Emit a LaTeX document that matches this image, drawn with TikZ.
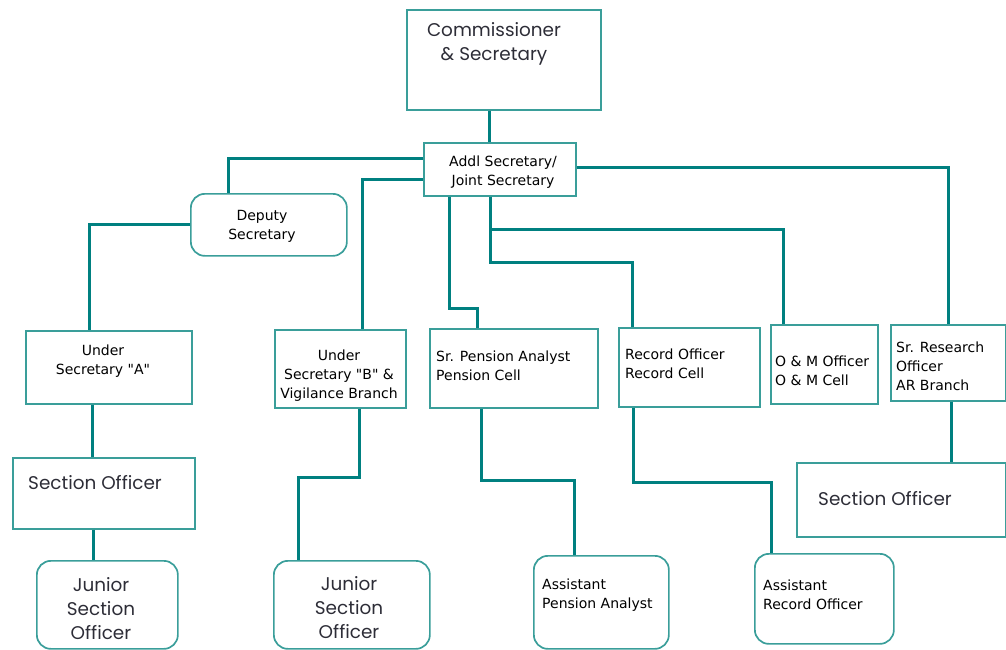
\documentclass[tikz,border=0pt]{standalone}
\usepackage{fontspec}
\setmainfont{DejaVu Sans}[Ligatures=TeXOff]
\newfontfamily\cgfont{Poppins}
\definecolor{lineteal}{RGB}{0,128,128}
\definecolor{boxteal}{RGB}{58,158,154}
\definecolor{txtgray}{RGB}{45,45,55}
\tikzset{
  obox/.style={draw=boxteal, line width=1.7pt, inner sep=0pt, anchor=north west},
  rbox/.style={obox, rounded corners=14pt},
  conn/.style={draw=lineteal, line width=3pt},
  small/.style={font=\fontsize{14}{19}\selectfont, inner sep=0pt, text=black},
  big/.style={font=\cgfont\fontsize{18.4}{24}\selectfont, inner sep=0pt, text=txtgray}
}
\begin{document}
\begin{tikzpicture}[x=1pt,y=-1pt]
\useasboundingbox (0,0) rectangle (1006,649);
% boxes
\node[obox, minimum width=194pt, minimum height=100pt] (comm) at (406,9) {};
\node[obox, minimum width=152pt, minimum height=53pt]  (addl) at (423,142) {};
\node[rbox, minimum width=156pt, minimum height=62pt]  (dep)  at (190,193) {};
\node[obox, minimum width=166pt, minimum height=73pt]  (usa)  at (25,330) {};
\node[obox, minimum width=131pt, minimum height=78pt]  (usb)  at (274,329) {};
\node[obox, minimum width=168pt, minimum height=79pt]  (spa)  at (429,328) {};
\node[obox, minimum width=141pt, minimum height=79pt]  (rec)  at (618,327) {};
\node[obox, minimum width=107pt, minimum height=79pt]  (om)   at (770,324) {};
\node[obox, minimum width=115pt, minimum height=76pt]  (srr)  at (890,324) {};
\node[obox, minimum width=182pt, minimum height=71pt]  (so1)  at (12,457) {};
\node[obox, minimum width=209pt, minimum height=74pt]  (so2)  at (796,462) {};
\node[rbox, minimum width=141pt, minimum height=88pt]  (jso1) at (36,560) {};
\node[rbox, minimum width=156pt, minimum height=88pt]  (jso2) at (273,560) {};
\node[rbox, minimum width=135pt, minimum height=93pt]  (apa)  at (533,555) {};
\node[rbox, minimum width=139pt, minimum height=90pt]  (aro)  at (754,553) {};
% texts
\node[big, align=center] (tcomm) at (494,44) {Commissioner\\\& Secretary};
\node[small, align=center] (taddl) at (503,172.5) {Addl Secretary/\\Joint Secretary};
\node[small, align=center] (tdep) at (262,226.5) {Deputy\\Secretary};
\node[small, align=center] (tusa) at (103,361.5) {Under\\Secretary "A"};
\node[small, align=center] (tusb) at (339,376) {Under\\Secretary "B" \&\\Vigilance Branch};
\node[small, align=left, anchor=west] (tspa) at (436,366) {Sr. Pension Analyst\\Pension Cell};
\node[small, align=left, anchor=west] (trec) at (625,364) {Record Officer\\Record Cell};
\node[small, align=left, anchor=west] (tom) at (775,370.5) {O \& M Officer\\O \& M Cell};
\node[small, align=left, anchor=west] (tsrr) at (896,366) {Sr. Research\\Officer\\AR Branch};
\node[big, anchor=west] (tso1) at (28,483) {Section Officer};
\node[big, anchor=west] (tso2) at (818,499) {Section Officer};
\node[big, align=center] (tjso1) at (101,609) {Junior\\Section\\Officer};
\node[big, align=center] (tjso2) at (349,607.5) {Junior\\Section\\Officer};
\node[small, align=left, anchor=west] (tapa) at (542,595) {Assistant\\Pension Analyst};
\node[small, align=left, anchor=west] (taro) at (763,595) {Assistant\\Record Officer};
% connectors
\draw[conn] ([xshift=-14]comm.south) -- ([xshift=-10]addl.north);
\draw[conn] ([yshift=10.5]addl.west) -| ([xshift=-40]dep.north);
\draw[conn] ([yshift=-10.5]addl.west) -| ([xshift=22.5]usb.north);
\draw[conn] (dep.west) -| ([xshift=-19]usa.north);
\draw[conn] ([yshift=1.5]addl.east) -| (srr.north);
\draw[conn] ([xshift=-50]addl.south) -- ++(0,112) -| ([xshift=-36]spa.north);
\draw[conn] ([xshift=-9]addl.south) -- ++(0,33) -| ([xshift=-40.5]om.north);
\draw[conn] ([xshift=-9]addl.south) -- ++(0,66) -| ([xshift=-56.5]rec.north);
\draw[conn] ([xshift=-16]usa.south) -- ([xshift=-11]so1.north);
\draw[conn] ([xshift=-10]so1.south) -- ([xshift=-13.5]jso1.north);
\draw[conn] ([xshift=19.5]usb.south) -- ++(0,69) -| ([xshift=-53]jso2.north);
\draw[conn] ([xshift=-32]spa.south) -- ++(0,72) -| ([xshift=-26.5]apa.north);
\draw[conn] ([xshift=-55.5]rec.south) -- ++(0,75) -| ([xshift=-52.5]aro.north);
\draw[conn] ([xshift=3.5]srr.south) -- ([xshift=50.5]so2.north);
\end{tikzpicture}
\end{document}
